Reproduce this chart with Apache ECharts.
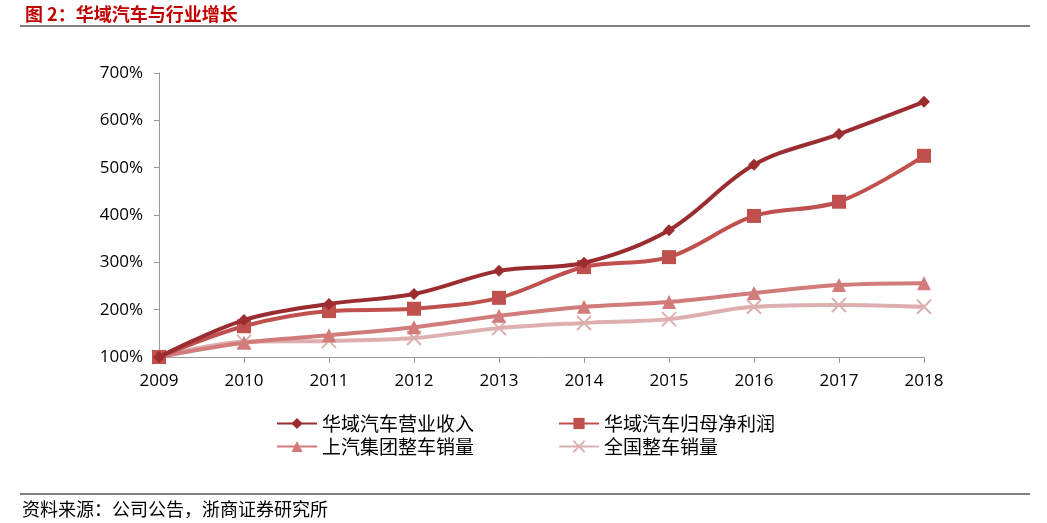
<!DOCTYPE html>
<html><head><meta charset="utf-8">
<script src="https://cdn.jsdelivr.net/npm/echarts@6/dist/echarts.min.js"></script>
<style>html,body{margin:0;padding:0;background:#fff}#c{width:1047px;height:523px}</style>
</head><body><div id="c"></div>
<script>
const years = ['2009','2010','2011','2012','2013','2014','2015','2016','2017','2018'];
const revenue = [100,178,212,233,282,299,368,506,571,639];
const netProfit = [100,165,197,202,225,290,311,398,428,525];
const saicSales = [100,130,146,163,187,206,216,235,252,256];
const nationalSales = [100,132,134,140,161,172,180,206,210,206];
const names = ['华域汽车营业收入','华域汽车归母净利润','上汽集团整车销量','全国整车销量'];
const colors = ['#9B2D30','#C0504D','#D17B7B','#DDAFAF'];
const symbols = ['diamond','rect','triangle','path://M0,0L10,10M10,0L0,10'];

const chart = echarts.init(document.getElementById('c'));
const data = [revenue, netProfit, saicSales, nationalSales];
const sizes = [12, 14, 14, 14];
const legPos = [[276,414],[558,414],[276,437],[558,437]];
chart.setOption({
  animation:false,
  title:{text:'图 2：华域汽车与行业增长',left:20,top:0,textStyle:{color:'#C00000',fontSize:18,fontWeight:'bold',fontFamily:'Noto Sans CJK SC'}},
  graphic:[
    {type:'line',shape:{x1:20,y1:26,x2:1030,y2:26},style:{stroke:'#000',lineWidth:1}},
    {type:'line',shape:{x1:20,y1:494,x2:1030,y2:494},style:{stroke:'#000',lineWidth:1}},
    {type:'text',left:22,top:500,style:{text:'资料来源：公司公告，浙商证券研究所',fontSize:18,fill:'#000',fontFamily:'Noto Sans CJK SC'}}
  ],
  legend:names.map((n,i)=>({data:[n],left:legPos[i][0],top:legPos[i][1],padding:0,itemWidth:40,itemHeight:14,itemGap:5,
    textStyle:{fontSize:19,color:'#000',fontFamily:'Noto Sans CJK SC',padding:[0,0,0,0]}})),
  grid:{left:159,right:123,top:73,bottom:166},
  xAxis:{type:'category',data:years,boundaryGap:false,
    axisLine:{lineStyle:{color:'#999'}},axisTick:{show:true,length:6,lineStyle:{color:'#999'}},
    axisLabel:{fontSize:17,color:'#000',margin:16,fontFamily:'Open Sans'}},
  yAxis:{type:'value',min:100,max:700,interval:100,
    axisLine:{show:true,lineStyle:{color:'#999'}},axisTick:{show:true,length:5,lineStyle:{color:'#999'}},
    splitLine:{show:false},
    axisLabel:{fontSize:17,color:'#000',margin:16,formatter:'{value}%',fontFamily:'Open Sans'}},
  series:data.map((d,i)=>({
    name:names[i],type:'line',data:d,smooth:0.35,symbol:symbols[i],symbolSize:sizes[i],showSymbol:true,
    lineStyle:{color:colors[i],width:4},
    itemStyle:i===3?{color:colors[i],borderColor:colors[i],borderWidth:2}:{color:colors[i]},
    z:10-i
  }))
});
</script></body></html>
